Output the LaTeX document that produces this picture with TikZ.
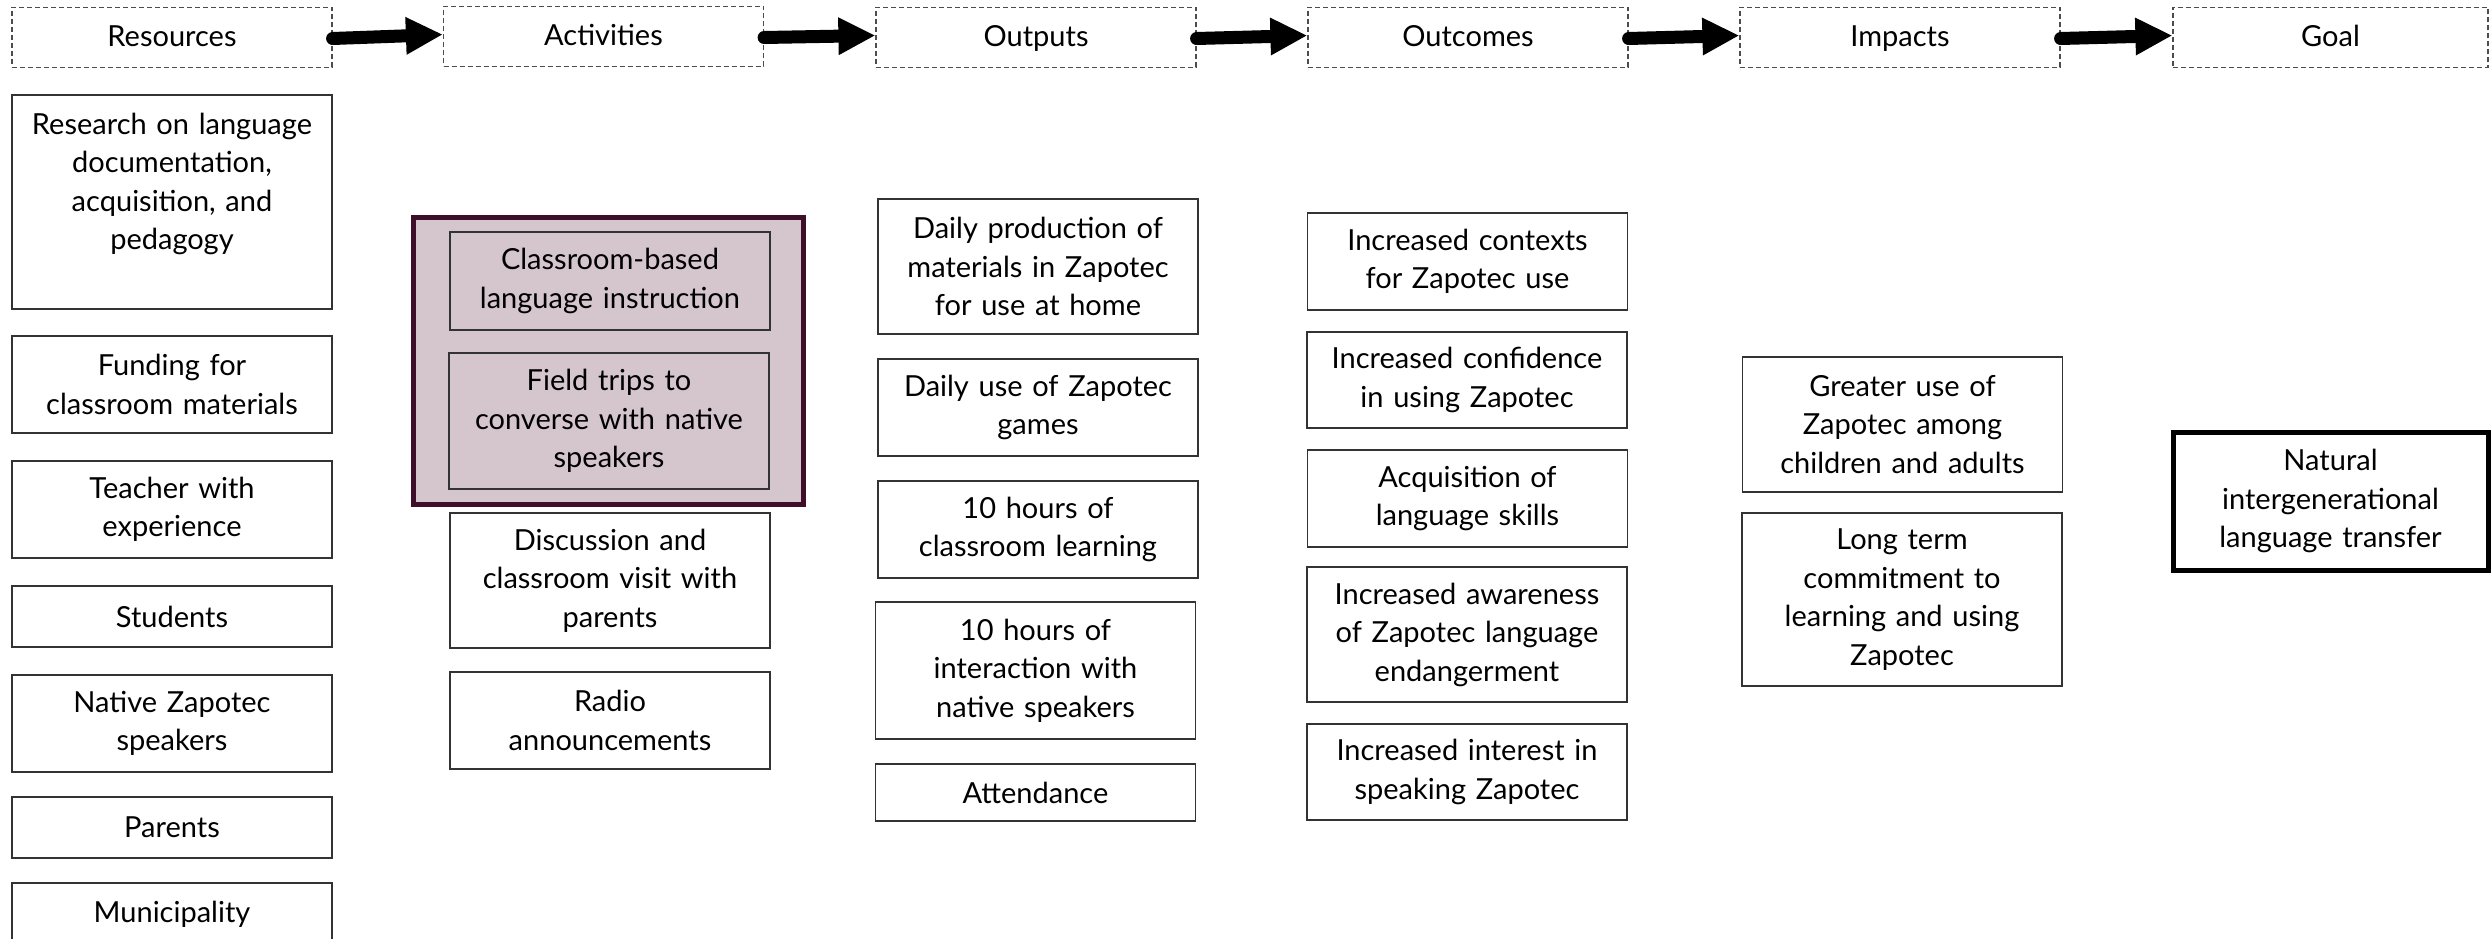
\documentclass[tikz,border=0pt]{standalone}
\usepackage{fontspec}
\setmainfont{Lato}
\usetikzlibrary{arrows.meta}
\definecolor{groupfill}{HTML}{D5C5CC}
\definecolor{groupedge}{HTML}{3F0E29}
\begin{document}
\begin{tikzpicture}[x=1pt, y=-1pt,
        every node/.style={font=\fontsize{29}{38.5}\selectfont, align=center, text width=310pt, inner sep=0pt, minimum width=320pt},
        head/.style={draw=black!70, dash pattern=on 5pt off 3pt, line width=1.2pt, minimum height=60pt, execute at begin node=\rule[-7.2pt]{0pt}{33.2pt}},
        item/.style={draw=black!80, line width=1.5pt},
        goal/.style={draw=black, line width=5pt},
        group/.style={draw=groupedge, fill=groupfill, line width=5pt},
        flow/.style={line width=13pt, line cap=round, -{Triangle[length=37pt, width=35pt]}}]
    \useasboundingbox (0,0) rectangle (2491,939);

    \node[head] (reshead) at (172,37.5) {Resources};
    \node[head] (acthead) at (603.5,36.5) {Activities};
    \node[head] (outhead) at (1036,37.5) {Outputs};
    \node[head] (ochead) at (1468,37.5) {Outcomes};
    \node[head] (imphead) at (1900,37.5) {Impacts};
    \node[head, minimum width=315pt] (goalhead) at (2330.5,37.5) {Goal};

    \draw[flow] ([yshift=-1pt]reshead.east) -- ([yshift=2pt]acthead.west);
    \draw[flow] ([yshift=-1pt]acthead.east) -- ([yshift=2pt]outhead.west);
    \draw[flow] ([yshift=-1pt]outhead.east) -- ([yshift=2pt]ochead.west);
    \draw[flow] ([yshift=-1pt]ochead.east) -- ([yshift=2pt]imphead.west);
    \draw[flow] ([yshift=-1pt]imphead.east) -- ([yshift=2pt]goalhead.west);

    \node[item, minimum height=214pt] (research) at (172,202) {Research on language\\documentation,\\acquisition, and\\pedagogy\\[-9pt]\strut};
    \node[item, minimum height=97pt] (funding) at (172,384.5) {Funding for\\classroom materials};
    \node[item, minimum height=97pt] (teacher) at (172,509.5) {Teacher with\\experience};
    \node[item, minimum height=61pt] (students) at (172,616.5) {Students};
    \node[item, minimum height=97pt] (speakers) at (172,723.5) {Native Zapotec\\speakers};
    \node[item, minimum height=61pt] (parents) at (172,827.5) {Parents};
    \node[item, minimum height=62pt] (town) at (172,914) {Municipality};

    \node[group, minimum width=390pt, minimum height=287pt] (inschool) at (608,360.5) {};
    \node[item, minimum height=98pt] (classroom) at (610,281) {Classroom-based\\language instruction};
    \node[item, minimum height=136pt] (fieldtrip) at (609,421) {Field trips to\\converse with native\\speakers};
    \node[item, minimum height=135pt] (discuss) at (610,580.5) {Discussion and\\classroom visit with\\parents};
    \node[item, minimum height=97pt] (radio) at (610,720.5) {Radio\\announcements};

    \node[item, minimum height=135pt] (produce) at (1038,266.5) {Daily production of\\materials in Zapotec\\for use at home};
    \node[item, minimum height=97pt] (games) at (1038,407.5) {Daily use of Zapotec\\games};
    \node[item, minimum height=97pt] (classhours) at (1038,529.5) {10 hours of\\classroom learning};
    \node[item, minimum height=137pt] (talkhours) at (1035.5,670.5) {10 hours of\\interaction with\\native speakers};
    \node[item, minimum height=57pt] (attend) at (1035.5,792.5) {Attendance};

    \node[item, minimum height=97pt] (contexts) at (1467.5,261.5) {Increased contexts\\for Zapotec use};
    \node[item, minimum height=96pt] (confidence) at (1467,380) {Increased confidence\\in using Zapotec};
    \node[item, minimum height=97pt] (skills) at (1467.5,498.5) {Acquisition of\\language skills};
    \node[item, minimum height=135pt] (awareness) at (1467,634.5) {Increased awareness\\of Zapotec language\\endangerment};
    \node[item, minimum height=96pt] (interest) at (1467,772) {Increased interest in\\speaking Zapotec};

    \node[item, minimum height=135pt] (greater) at (1902.5,424.5) {Greater use of\\Zapotec among\\children and adults};
    \node[item, minimum height=173pt] (commit) at (1902,599.5) {Long term\\commitment to\\learning and using\\Zapotec};

    \node[goal, minimum width=315pt, minimum height=138pt] (transfer) at (2330.5,501) {Natural\\intergenerational\\language transfer};
\end{tikzpicture}
\end{document}
